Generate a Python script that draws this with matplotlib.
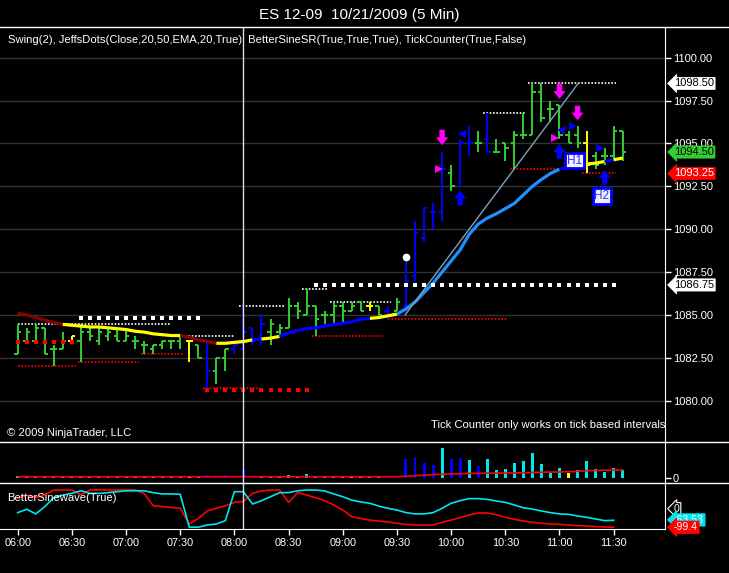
import numpy as np
import matplotlib.pyplot as plt
from matplotlib.lines import Line2D
from matplotlib.transforms import blended_transform_factory

plt.rcParams['font.family'] = ['Liberation Sans', 'DejaVu Sans']

W, H = 729, 573

title = "ES 12-09  10/21/2009 (5 Min)"
ind_label = "Swing(2), JeffsDots(Close,20,50,EMA,20,True)| BetterSineSR(True,True,True), TickCounter(True,False)"

time_labels = ['06:00', '06:30', '07:00', '07:30', '08:00', '08:30',
               '09:00', '09:30', '10:00', '10:30', '11:00', '11:30']
time_bars = [0, 6, 12, 18, 24, 30, 36, 42, 48, 54, 60, 66]

# 5 min OHLC bars, 06:00 .. 11:35
opens = [1082.75, 1083.5, 1083.5, 1084.25, 1083.0, 1083.0, 1083.5, 1083.5, 1084.0, 1083.5,
         1083.75, 1083.75, 1083.5, 1083.5, 1083.25, 1083.0, 1083.25, 1083.5, 1083.5, 1083.5,
         1083.25, 1083.5, 1081.75, 1082.5, 1083.0, 1083.0, 1084.25, 1083.75, 1084.0, 1084.0,
         1084.25, 1085.5, 1085.0, 1085.5, 1085.0, 1085.0, 1085.5, 1085.25, 1085.75, 1085.5,
         1085.5, 1085.25, 1085.25, 1085.5, 1087.25, 1089.5, 1091.0, 1091.0, 1093.25, 1092.5,
         1095.0, 1095.0, 1095.25, 1094.5, 1095.0, 1095.0, 1095.5, 1095.5, 1098.0, 1097.0,
         1097.25, 1095.5, 1095.5, 1095.0, 1094.25, 1094.25, 1094.25, 1095.75]
highs = [1084.5, 1084.25, 1084.5, 1084.25, 1083.25, 1084.0, 1083.75, 1084.5, 1084.25, 1084.25,
         1084.25, 1084.25, 1084.25, 1083.75, 1083.5, 1083.25, 1083.5, 1083.5, 1083.75, 1083.5,
         1083.25, 1083.5, 1082.5, 1083.0, 1083.25, 1085.5, 1084.25, 1085.0, 1084.75, 1084.5,
         1086.0, 1085.75, 1086.5, 1085.5, 1085.25, 1085.75, 1085.75, 1085.75, 1085.75, 1085.75,
         1085.5, 1085.5, 1086.0, 1088.25, 1090.5, 1091.25, 1091.5, 1094.5, 1093.75, 1095.25,
         1096.0, 1095.75, 1096.75, 1095.25, 1095.0, 1095.75, 1096.75, 1098.5, 1098.5, 1097.5,
         1097.25, 1095.75, 1096.0, 1095.75, 1094.5, 1094.75, 1096.0, 1095.75]
lows = [1082.75, 1083.5, 1083.5, 1082.75, 1082.0, 1083.0, 1083.5, 1082.25, 1083.5, 1083.25,
        1083.5, 1083.5, 1083.5, 1083.0, 1082.75, 1082.75, 1083.0, 1083.0, 1083.0, 1082.25,
        1082.5, 1080.75, 1081.0, 1081.75, 1082.75, 1083.0, 1083.25, 1083.25, 1083.25, 1083.75,
        1084.25, 1084.75, 1085.0, 1083.75, 1084.5, 1084.5, 1084.5, 1085.25, 1085.25, 1085.25,
        1085.0, 1084.75, 1085.25, 1085.25, 1087.0, 1089.25, 1090.0, 1090.5, 1092.25, 1092.5,
        1094.25, 1094.5, 1094.5, 1094.5, 1094.0, 1093.5, 1095.25, 1095.5, 1096.25, 1096.25,
        1095.25, 1095.0, 1094.75, 1093.25, 1093.5, 1093.75, 1094.0, 1094.0]
closes = [1084.0, 1084.0, 1084.25, 1082.75, 1083.0, 1083.5, 1083.75, 1084.0, 1083.75, 1084.0,
          1084.0, 1083.5, 1083.75, 1083.5, 1083.25, 1083.25, 1083.5, 1083.5, 1083.75, 1083.5,
          1082.5, 1081.75, 1082.5, 1083.0, 1083.25, 1084.0, 1083.5, 1084.5, 1084.5, 1084.25,
          1085.5, 1085.25, 1085.5, 1084.75, 1085.0, 1085.5, 1085.25, 1085.5, 1085.25, 1085.5,
          1085.0, 1085.0, 1085.75, 1087.0, 1089.75, 1091.25, 1091.0, 1093.5, 1092.5, 1095.0,
          1095.0, 1095.0, 1094.5, 1094.5, 1094.75, 1095.5, 1095.5, 1098.0, 1096.5, 1097.0,
          1095.5, 1095.0, 1095.0, 1093.75, 1093.75, 1094.25, 1095.75, 1094.5]
bar_kind = ('ggggggyggggggggggggygbggbbbbgggggggggggygbgbbbbbgbbgbggggggggggygggggg')

ema = [1085.1, 1085.0, 1084.85, 1084.7, 1084.55, 1084.45, 1084.4, 1084.35, 1084.3, 1084.3,
       1084.25, 1084.2, 1084.15, 1084.05, 1084.0, 1083.9, 1083.85, 1083.8, 1083.8, 1083.7,
       1083.55, 1083.45, 1083.35, 1083.35, 1083.4, 1083.45, 1083.55, 1083.6, 1083.65, 1083.75,
       1083.95, 1084.1, 1084.2, 1084.25, 1084.35, 1084.45, 1084.5, 1084.6, 1084.75, 1084.8,
       1084.85, 1084.95, 1085.05, 1085.35, 1085.75, 1086.3, 1086.85, 1087.5, 1088.15, 1088.8,
       1089.7, 1090.3, 1090.65, 1090.9, 1091.2, 1091.5, 1092.0, 1092.5, 1092.9, 1093.25,
       1093.5, 1093.65, 1093.75, 1093.8, 1093.85, 1093.95, 1094.05, 1094.15]
ema_runs = [(0, 5, '#8b0000'), (5, 18, '#ffff00'), (18, 22, '#8b0000'), (22, 26, '#ffff00'),
            (26, 27, '#0000ff'), (27, 29, '#ffff00'), (29, 39, '#0000ff'), (39, 42, '#ffff00'),
            (42, 60, '#1e90ff'), (60, 62, '#0000ff'), (62, 65, '#ffff00'), (65, 66, '#0000ff'),
            (66, 67, '#ffff00')]

# swing lines: (from bar, to bar, price)
swing_highs = [(0, 17, 1084.5), (18.5, 24, 1083.75), (24.5, 29.5, 1085.5), (31.5, 34.3, 1086.5),
               (34.6, 41.3, 1085.75), (51.5, 56.2, 1096.75), (56.5, 66.3, 1098.5)]
swing_lows = [(0, 6.5, 1082.0), (6.7, 13.4, 1082.25), (13.7, 18.4, 1082.75), (20.5, 26.8, 1080.75),
              (32.6, 40.5, 1083.75), (41, 54.2, 1084.75), (54.5, 60.8, 1093.5), (62.5, 66.3, 1093.25)]

# JeffsDots squares: (first bar, last bar, price)
white_dots = [(7, 20, 1084.85), (33, 66, 1086.75)]
red_dots = [(0, 6, 1083.4), (21, 32, 1080.65)]

trend_line = [(42.9, 1085.0), (62.0, 1098.45)]

down_arrows = [(47, 1095.8, 1094.9), (60, 1098.5, 1097.6), (62, 1097.2, 1096.35)]
up_arrows = [(49, 1091.4, 1092.25), (60, 1094.1, 1094.95), (65, 1092.6, 1093.45)]
magenta_tri = [(46.7, 1093.5), (59.5, 1095.3)]
blue_tri_left = [(49.2, 1095.55), (60.2, 1095.8)]
blue_tri_right = [(61.5, 1096.0), (64.5, 1094.75)]
h_labels = [('H1', 61.7, 1094.0), ('H2', 64.7, 1091.95)]

price_tags = [('1098.50', 1098.5, 'white', 'black'), ('1094.50', 1094.5, '#32cd32', 'black'),
              ('1093.25', 1093.25, '#ff0000', 'white'), ('1086.75', 1086.75, 'white', 'black')]

tick_vals = [1.5, 1, 1, 1, 2, 1, 1, 2, 1, 1,
             1, 1, 1, 2, 1, 1, 1, 1, 1, 2,
             1, 3, 2, 2.5, 1, 7.5, 2, 1.5, 1.5, 1.5,
             3, 2, 4, 1.5, 1.5, 1, 1, 1, 1, 2,
             1, 1, 2, 18.7, 20.3, 14.3, 12.7, 29.7, 18.7, 20,
             17.7, 11.7, 18.7, 7.7, 8.7, 14.3, 16.7, 24.3, 13.7, 5,
             9.7, 5, 7.7, 16.7, 9, 6, 9.7, 7.7]
tick_kind = ('cccccccccccccccccccycbbbbbbccccccccccycccbbbbbbcbbcbcccccccccycccccc')
tick_avg = [1, 1, 1, 1, 1, 1, 1, 1, 1, 1,
            1, 1, 1, 1, 1, 1, 1, 1, 1, 1,
            1, 1, 1, 1, 1, 1, 1, 1, 1, 1,
            1, 1, 1, 1, 1, 1, 1, 1, 1, 1,
            1, 1, 1, 1.5, 2, 2.5, 3, 3.5, 3.8, 4,
            4.3, 4.3, 4.5, 4.5, 4.6, 4.8, 5, 5.3, 5.5, 5.6,
            5.8, 6, 6.3, 7, 7.3, 7.5, 7.6, 7.7]

sine_red = [55, 73, 61, 73, 100, 100, 100, 75, 100, 100,
            100, 100, 100, 100, 82, 16, 11, 7, 2, -82,
            -52, -12, 2, 16, 34, 39, 82, 95, 100, 100,
            34, 86, 73, 59, 43, 20, -7, -43, -53, -61,
            -66, -71, -78, -84, -87, -87, -87, -73, -61, -48,
            -34, -23, -23, -32, -46, -57, -66, -73, -78, -82,
            -84, -87, -91, -93, -96, -98, -99.4]
sine_cyan = [-21, -3, -28, 11, 59, 73, 82, 96, 82, 82,
             86, 91, 96, 96, 96, 86, 79, 79, 77, -99,
             -99, -87, -82, -64, 91, 91, 25, 43, 64, 86,
             86, 96, 100, 100, 95, 79, 64, 46, 36, 29,
             14, 2, -7, -21, -28, -28, -21, 2, 29, 43,
             54, 54, 50, 41, 34, 20, 5, -2, -12, -21,
             -28, -30, -39, -46, -55, -64, -62]

kind_col = {'g': '#32cd32', 'b': '#0000ff', 'y': '#ffff00', 'c': '#00e5ee'}


def rect(x0, y0, x1, y1):
    return [x0 / W, 1 - y1 / H, (x1 - x0) / W, (y1 - y0) / H]


def style(ax):
    ax.set_facecolor('black')
    for s in ['top', 'left', 'bottom']:
        ax.spines[s].set_visible(False)
    ax.spines['right'].set_color('white')
    ax.yaxis.tick_right()
    ax.tick_params(axis='y', colors='white', length=4, width=1, labelsize=8, pad=1.5)
    ax.set_xticks([])
    ax.set_xlim(-1.96, 71.72)


fig = plt.figure(figsize=(W / 100, H / 100), dpi=100, facecolor='black')

# ---- price panel
ax = fig.add_axes(rect(0, 27, 665.3, 441.7))
style(ax)
ax.set_ylim(1077.61, 1101.79)
yt = np.arange(1080, 1100.1, 2.5)
ax.set_yticks(yt)
ax.set_yticklabels(['%.2f' % v for v in yt])
for v in yt:
    ax.axhline(v, color='#333333', lw=1, zorder=0)

x = np.arange(len(opens))
cols = [kind_col[k] for k in bar_kind]
ax.vlines(x, lows, highs, colors=cols, lw=1.4, zorder=3)
ax.hlines(opens, x - 0.38, x, colors=cols, lw=1.4, zorder=3)
ax.hlines(closes, x, x + 0.38, colors=cols, lw=1.4, zorder=3)

for a, b, c in ema_runs:
    ax.plot(x[a:b + 1], ema[a:b + 1], color=c, lw=2.3, zorder=4, solid_capstyle='butt')

for x0, x1, p in swing_highs:
    ax.plot([x0, x1], [p, p], color='white', lw=1.2, ls=(0, (1, 1)), zorder=2)
for x0, x1, p in swing_lows:
    ax.plot([x0, x1], [p, p], color='#ff0000', lw=1.2, ls=(0, (1, 1)), zorder=2)
for a, b, p in white_dots:
    xs = np.arange(a, b + 1)
    ax.plot(xs, [p] * len(xs), 's', color='white', ms=3.2, mew=0, zorder=5)
for a, b, p in red_dots:
    xs = np.arange(a, b + 1)
    ax.plot(xs, [p] * len(xs), 's', color='#ff0000', ms=3.2, mew=0, zorder=5)
ax.plot([43], [1088.4], 'o', color='white', ms=4.5, zorder=5)

ax.plot([p[0] for p in trend_line], [p[1] for p in trend_line], color='#7f9fbf', lw=1, zorder=4)

arrow_style = 'simple,head_length=0.8,head_width=1.25,tail_width=0.55'
for xi, tail, tip in down_arrows:
    ax.annotate('', xy=(xi, tip), xytext=(xi, tail),
                arrowprops=dict(arrowstyle=arrow_style, color='#ff00ff', lw=0,
                                shrinkA=0, shrinkB=0, mutation_scale=7), zorder=6)
for xi, tail, tip in up_arrows:
    ax.annotate('', xy=(xi, tip), xytext=(xi, tail),
                arrowprops=dict(arrowstyle=arrow_style, color='#0000ff', lw=0,
                                shrinkA=0, shrinkB=0, mutation_scale=7), zorder=6)
for xi, p in magenta_tri:
    ax.plot(xi, p, '>', color='#ff00ff', ms=5.5, mew=0, zorder=6)
for xi, p in blue_tri_left:
    ax.plot(xi, p, '<', color='#0000ff', ms=5.5, mew=0, zorder=6)
for xi, p in blue_tri_right:
    ax.plot(xi, p, '>', color='#0000ff', ms=5.5, mew=0, zorder=6)
for t, xi, p in h_labels:
    ax.text(xi, p, t, ha='center', va='center', fontsize=8.5, color='#3030ff', zorder=7,
            bbox=dict(boxstyle='square,pad=0.15', fc='#f0f0ff', ec='#0000ff', lw=2))

tr = blended_transform_factory(ax.transAxes, ax.transData)
for t, p, fc, tc in price_tags:
    ax.text(674 / 665.3, p, t, transform=tr, ha='left', va='center', fontsize=8, color=tc,
            clip_on=False, zorder=8,
            bbox=dict(boxstyle='larrow,pad=0.1', fc=fc, ec=fc, lw=0.5))

ax.text(8 / 665.3, 1 - 13 / 414.7, ind_label, transform=ax.transAxes, ha='left', va='center',
        fontsize=8.1, color='white')
ax.text(7 / 665.3, 1 - 406 / 414.7, '\u00a9 2009 NinjaTrader, LLC', transform=ax.transAxes,
        ha='left', va='center', fontsize=8.1, color='white')
ax.text(1.0, 1 - 398 / 414.7, 'Tick Counter only works on tick based intervals',
        transform=ax.transAxes, ha='right', va='center', fontsize=8.1, color='white')
ax.axvline(25, color='#e0e0e0', lw=1, zorder=9)

# ---- tick counter panel
ax2 = fig.add_axes(rect(0, 441.7, 665.3, 483.3))
style(ax2)
ax2.set_ylim(-5.6, 36)
ax2.set_yticks([0])
ax2.set_yticklabels(['0'])
ax2.bar(x, tick_vals, width=0.33, color=[kind_col[k] for k in tick_kind], zorder=3)
ax2.plot(x, tick_avg, color='#ff0000', lw=1.2, zorder=4)
ax2.axvline(25, color='#e0e0e0', lw=1, zorder=9)

# ---- sinewave panel
ax3 = fig.add_axes(rect(0, 483.3, 665.3, 529.3))
style(ax3)
ax3.spines['bottom'].set_visible(True)
ax3.spines['bottom'].set_color('white')
ax3.set_ylim(-110.3, 136)
ax3.set_yticks([])
xs = np.arange(len(sine_red))
ax3.plot(xs, sine_red, color='#ff0000', lw=1.2, zorder=3)
ax3.plot(xs, sine_cyan, color='#00e5ee', lw=1.2, zorder=3)
ax3.axvline(25, color='#e0e0e0', lw=1, zorder=9)
ax3.set_xticks(time_bars)
ax3.set_xticklabels(time_labels)
ax3.tick_params(axis='x', colors='white', length=4, width=1, labelsize=7.8, pad=2)
ax3.text(7 / 665.3, 0.67, 'BetterSinewave(True)', transform=ax3.transAxes, ha='left',
         va='center', fontsize=8.1, color='white')
tr3 = blended_transform_factory(ax3.transAxes, ax3.transData)
for t, v, fc, ec, tc in [('0', 0, 'black', 'white', 'white'),
                         ('-63.53', -60, '#00e5ee', '#00e5ee', 'white'),
                         ('-99.4', -99.4, '#ff0000', '#ff0000', 'white')]:
    ax3.text(674 / 665.3, v, t, transform=tr3, ha='left', va='center', fontsize=7.6, color=tc,
             clip_on=False, zorder=8,
             bbox=dict(boxstyle='larrow,pad=0.1', fc=fc, ec=ec, lw=0.8))

# ---- header and separators
fig.text(359 / W, 1 - 15 / H, title, ha='center', va='center', fontsize=11, color='white')
for yy, xa, xb in [(27, 0, W), (441.7, 0, W), (483.3, 0, W)]:
    fig.add_artist(Line2D([xa / W, xb / W], [1 - yy / H] * 2, color='white', lw=1))

fig.savefig('out.png', dpi=100, facecolor='black')
